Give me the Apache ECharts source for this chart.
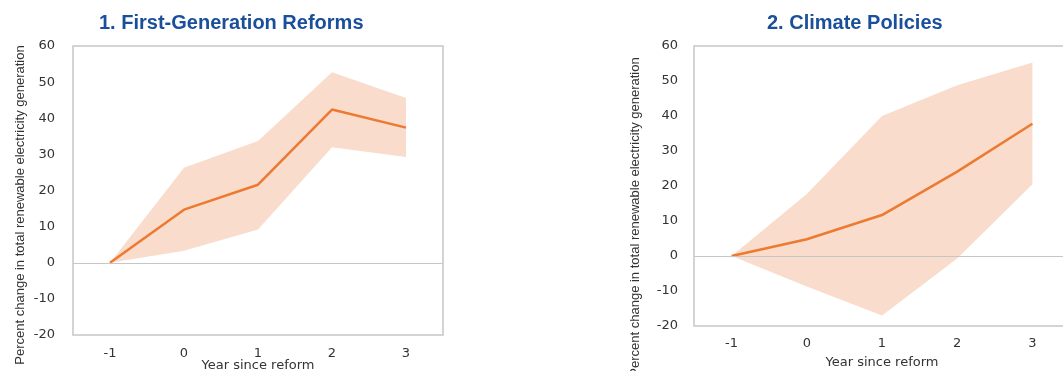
<!DOCTYPE html>
<html>
<head>
<meta charset="utf-8">
<script src="https://cdn.jsdelivr.net/npm/echarts@6/dist/echarts.min.js"></script>
<style>
  html, body { margin: 0; padding: 0; background: #fff; }
  #main { width: 1063px; height: 371px; }
</style>
</head>
<body>
<div id="main"></div>
<script>
// years since reform
var years = ['-1', '0', '1', '2', '3'];

// 1. First-Generation Reforms
var reformMid = [0, 14.7, 21.6, 42.4, 37.4];
var reformUpper = [0, 26.3, 33.7, 52.7, 45.6];
var reformLower = [0, 3.3, 9.2, 32.0, 29.3];

// 2. Climate Policies
var climateMid = [0, 4.8, 11.7, 24.1, 37.8];
var climateUpper = [0, 17.7, 40.0, 48.8, 55.3];
var climateLower = [0, -8.7, -17.0, -0.7, 20.5];

var yTicks = { min: -20, max: 60, interval: 10 };

var orange = '#ec7a31';
var band = '#f9dccb';
var frame = '#c6c6c6';
var blue = '#1a4f9c';
var yName = 'Percent change in total renewable electricity generation';

var chart = echarts.init(document.getElementById('main'));

function spread(up, lo) {
  return up.map(function (v, i) { return +(v - lo[i]).toFixed(2); });
}

function xAx(idx, gap, margin) {
  return {
    type: 'category',
    gridIndex: idx,
    data: years,
    boundaryGap: true,
    axisLine: { show: false },
    axisTick: { show: false },
    axisLabel: { color: '#333', fontFamily: 'DejaVu Sans', fontSize: 13, margin: margin },
    name: 'Year since reform',
    nameLocation: 'middle',
    nameGap: gap,
    nameMoveOverlap: false,
    nameTextStyle: { color: '#333', fontFamily: 'DejaVu Sans', fontSize: 13 }
  };
}

function yAx(idx, margin) {
  return {
    type: 'value',
    gridIndex: idx,
    min: yTicks.min,
    max: yTicks.max,
    interval: yTicks.interval,
    axisLine: { show: false },
    axisTick: { show: false },
    splitLine: { show: false },
    axisLabel: { color: '#333', fontFamily: 'DejaVu Sans', fontSize: 13, margin: margin }
  };
}

function panel(idx, mid, up, lo) {
  var st = 'band' + idx;
  return [
    {
      type: 'line', xAxisIndex: idx, yAxisIndex: idx,
      data: lo, stack: st, stackStrategy: 'all',
      symbol: 'none', lineStyle: { opacity: 0 }, silent: true
    },
    {
      type: 'line', xAxisIndex: idx, yAxisIndex: idx,
      data: spread(up, lo), stack: st, stackStrategy: 'all',
      symbol: 'none', lineStyle: { opacity: 0 },
      areaStyle: { color: band, opacity: 1 }, silent: true
    },
    {
      type: 'line', xAxisIndex: idx, yAxisIndex: idx,
      data: mid, symbol: 'none',
      lineStyle: { color: orange, width: 2.5 },
      markLine: {
        silent: true, symbol: 'none', label: { show: false },
        lineStyle: { color: frame, type: 'solid', width: 1.2 },
        data: [{ yAxis: 0 }]
      },
      z: 3
    }
  ];
}

var titleStyle = { color: blue, fontFamily: 'Liberation Sans', fontWeight: 'bold', fontSize: 20 };

var option = {
  animation: false,
  title: [
    { text: '1. First-Generation Reforms', left: 94, top: 8, textStyle: titleStyle },
    { text: '2. Climate Policies', left: 762, top: 8, textStyle: titleStyle }
  ],
  grid: [
    { left: 73, top: 46, width: 370, height: 289, outerBoundsMode: 'none',
      show: true, borderColor: frame, borderWidth: 1.5, backgroundColor: 'transparent' },
    { left: 694, top: 46, width: 376, height: 280, outerBoundsMode: 'none',
      show: true, borderColor: frame, borderWidth: 1.5, backgroundColor: 'transparent' }
  ],
  xAxis: [xAx(0, 24, 12), xAx(1, 30, 11)],
  yAxis: [yAx(0, 18), yAx(1, 16)],
  graphic: [
    { type: 'text', x: 20, y: 205, rotation: Math.PI / 2,
      style: { text: yName, fill: '#333', font: '13px "Liberation Sans", sans-serif', align: 'center', verticalAlign: 'middle' } },
    { type: 'text', x: 635, y: 217, rotation: Math.PI / 2,
      style: { text: yName, fill: '#333', font: '13px "Liberation Sans", sans-serif', align: 'center', verticalAlign: 'middle' } }
  ],
  series: [].concat(
    panel(0, reformMid, reformUpper, reformLower),
    panel(1, climateMid, climateUpper, climateLower)
  )
};

chart.setOption(option);
</script>
</body>
</html>
